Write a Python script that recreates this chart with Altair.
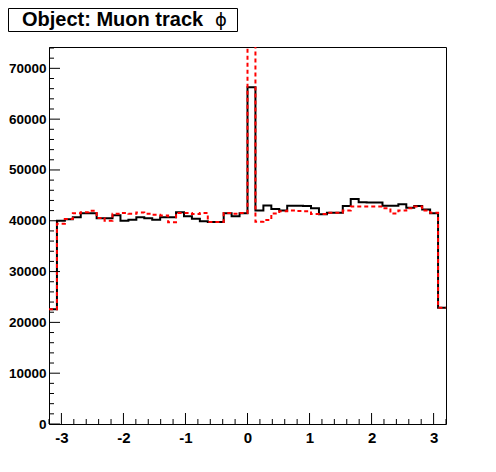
import altair as alt
import pandas as pd
import numpy as np

# Histogram: 50 bins on [-3.2, 3.2]
x_min, x_max, n_bins = -3.2, 3.2, 50

black_counts = [
    22600, 40000, 40300, 40700, 41500, 41500, 40500, 40500, 41100, 40000,
    40200, 40700, 40500, 40200, 40700, 40700, 41700, 40900, 40400, 39900,
    39750, 39750, 41500, 40900, 41500, 66300, 42000, 43000, 42300, 42000,
    42950, 42950, 42900, 42450, 41300, 41600, 41600, 42900, 44300, 43650,
    43600, 43600, 42950, 42950, 43250, 42550, 42900, 42200, 41500, 22900,
]
red_counts = [
    22600, 39400, 40350, 41500, 41700, 41950, 40550, 40000, 41400, 41550,
    41400, 41650, 41400, 41200, 41050, 39700, 41550, 41550, 41350, 41550,
    39750, 39750, 41550, 41400, 41550, 80000, 39800, 40150, 41450, 41850,
    42000, 41900, 41850, 41350, 41350, 41600, 41600, 42000, 42800, 42800,
    42800, 42800, 42450, 41450, 42000, 42450, 42800, 42000, 41600, 22900,
]

x_major = [-3, -2, -1, 0, 1, 2, 3]
y_major = [0, 10000, 20000, 30000, 40000, 50000, 60000, 70000]
y_top = 74200

title_main = "Object: Muon track"
title_sym = "ϕ"

W, H = 397, 377

edges = list(np.round(np.linspace(x_min, x_max, n_bins + 1), 4))


def step_df(counts):
    return pd.DataFrame({"x": edges, "y": counts + [counts[-1]]})


xs = alt.Scale(domain=[x_min, x_max], nice=False, zero=False)
ys = alt.Scale(domain=[0, y_top], nice=False, zero=False)

FONT = "Liberation Sans"

x_axis = alt.Axis(
    values=x_major, ticks=False, domain=False, grid=False, title=None,
    labelFont=FONT, labelFontWeight="bold", labelFontSize=15,
    labelColor="black", labelPadding=6, labelExpr="'' + datum.value")
y_axis = alt.Axis(
    values=y_major, ticks=False, domain=False, grid=False, title=None,
    labelFont=FONT, labelFontWeight="bold", labelFontSize=13.5,
    labelColor="black", labelPadding=3, labelExpr="'' + datum.value")

black = alt.Chart(step_df(black_counts)).mark_line(
    interpolate="step-after", color="black", strokeWidth=2, clip=True
).encode(
    x=alt.X("x:Q", scale=xs, axis=x_axis),
    y=alt.Y("y:Q", scale=ys, axis=y_axis),
)

red = alt.Chart(step_df(red_counts)).mark_line(
    interpolate="step-after", color="#ff0000", strokeWidth=2,
    strokeDash=[4, 3], clip=True
).encode(x=alt.X("x:Q", scale=xs, axis=x_axis),
         y=alt.Y("y:Q", scale=ys, axis=y_axis))

x_minor = [round(v, 1) for v in np.arange(-3.2, 3.21, 0.2) if abs(v - round(v)) > 1e-6]
y_minor = [v for v in range(0, y_top, 2000) if v % 10000 != 0]

xt_major = alt.Chart(pd.DataFrame({"x": x_major})).mark_rule(color="black").encode(
    x=alt.X("x:Q", scale=xs, axis=x_axis), y=alt.value(H), y2=alt.value(H - 11))
xt_minor = alt.Chart(pd.DataFrame({"x": x_minor})).mark_rule(color="black").encode(
    x=alt.X("x:Q", scale=xs, axis=x_axis), y=alt.value(H), y2=alt.value(H - 5))
yt_major = alt.Chart(pd.DataFrame({"y": y_major})).mark_rule(color="black").encode(
    y=alt.Y("y:Q", scale=ys, axis=y_axis), x=alt.value(0), x2=alt.value(11))
yt_minor = alt.Chart(pd.DataFrame({"y": y_minor})).mark_rule(color="black").encode(
    y=alt.Y("y:Q", scale=ys, axis=y_axis), x=alt.value(0), x2=alt.value(5))

one = pd.DataFrame({"k": [0]})
tbox = alt.Chart(one).mark_rect(fill="white", stroke="black", strokeWidth=1).encode(
    x=alt.value(-40.5), x2=alt.value(188.5), y=alt.value(-38.5), y2=alt.value(-15.5))
ttext = alt.Chart(one).mark_text(
    text=title_main, font=FONT, fontWeight="bold", fontSize=20,
    align="left", baseline="alphabetic", color="black"
).encode(x=alt.value(-27), y=alt.value(-21.5))
tsym = alt.Chart(one).mark_text(
    text=title_sym, font="DejaVu Sans", fontSize=18,
    align="left", baseline="alphabetic", color="black"
).encode(x=alt.value(166), y=alt.value(-21.5))

chart = alt.layer(
    black, red, xt_major, xt_minor, yt_major, yt_minor, tbox, ttext, tsym
).properties(
    width=W, height=H,
    autosize=alt.AutoSizeParams(type="none"),
    padding={"left": 41, "top": 39, "right": 42, "bottom": 40},
    background="white",
).configure_view(stroke="black", strokeWidth=1)

chart.save("out.html", embed_options={"renderer": "svg", "actions": False})
